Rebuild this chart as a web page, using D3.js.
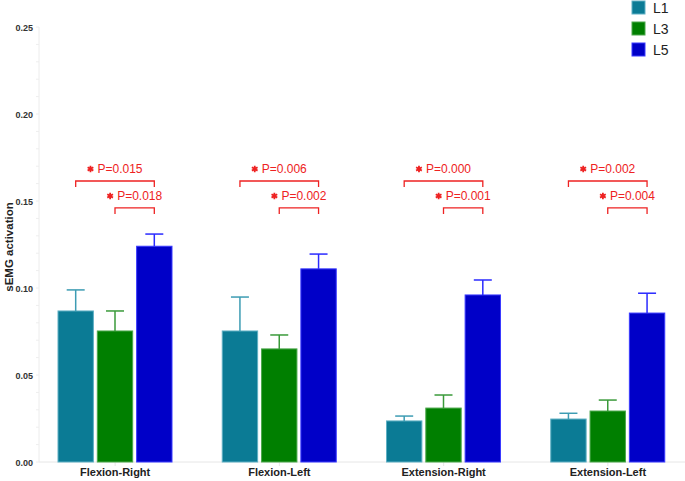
<!DOCTYPE html>
<html lang="en">
<head>
    <meta charset="UTF-8">
    <title>sEMG activation</title>
    <script src="https://d3js.org/d3.v7.min.js"></script>
    <style>
        body { margin: 0; background: #fff; }
        text { font-family: Arial, "Liberation Sans", sans-serif; }
    </style>
</head>
<body>
    <div id="chart-container"></div>
    <script>
        // chart data
        const groups = ["Flexion-Right", "Flexion-Left", "Extension-Right", "Extension-Left"];
        const levels = ["L1", "L3", "L5"];
        const meanL1 = [0.0868, 0.0753, 0.0236, 0.0247];
        const meanL3 = [0.0753, 0.0650, 0.0310, 0.0293];
        const meanL5 = [0.1240, 0.1110, 0.0960, 0.0856];
        const errL1 = [0.0121, 0.0195, 0.0028, 0.0033];
        const errL3 = [0.0115, 0.0080, 0.0075, 0.0063];
        const errL5 = [0.0070, 0.0085, 0.0086, 0.0114];
        const pL1L5 = ["P=0.015", "P=0.006", "P=0.000", "P=0.002"];
        const pL3L5 = ["P=0.018", "P=0.002", "P=0.001", "P=0.004"];
        const yTicks = [0, 0.05, 0.10, 0.15, 0.20, 0.25];

        const fills = ["#0b7b95", "#007f00", "#0000c8"];
        const strokes = ["#5fb0c4", "#4ca84c", "#3a3aff"];
        const errColors = ["#3d9cb3", "#3a9a3a", "#2a2aff"];

        const width = 685, height = 481;
        const svg = d3.select("#chart-container").append("svg")
            .attr("width", width).attr("height", height);

        const x = d3.scaleBand().domain(groups).range([33, 690]).padding(0);
        const xi = d3.scaleBand().domain(levels).range([25, 139]).paddingInner(0.1);
        const y = d3.scaleLinear().domain([0, 0.25]).range([462, 27]);

        const means = [meanL1, meanL3, meanL5];
        const errs = [errL1, errL3, errL5];

        // axis lines
        svg.append("line")
            .attr("x1", 39).attr("x2", width).attr("y1", y(0)).attr("y2", y(0))
            .attr("stroke", "#e6e6e6");
        svg.append("line")
            .attr("x1", 39).attr("x2", 39).attr("y1", y(0)).attr("y2", y(0.25))
            .attr("stroke", "#ececec");

        // minor ticks on y axis
        svg.append("g").selectAll("line")
            .data(d3.range(0, 26).map(i => i / 100))
            .join("line")
            .attr("x1", 36).attr("x2", 39)
            .attr("y1", d => y(d)).attr("y2", d => y(d))
            .attr("stroke", "#eeeeee");

        // y tick labels
        svg.append("g").selectAll("text")
            .data(yTicks)
            .join("text")
            .attr("x", 33).attr("y", d => y(d) + 3.5)
            .attr("text-anchor", "end")
            .attr("font-size", 9).attr("font-weight", "bold")
            .attr("fill", "#333")
            .text(d => d3.format(".2f")(d));

        svg.append("text")
            .attr("transform", "translate(13," + 247 + ") rotate(-90)")
            .attr("text-anchor", "middle")
            .attr("font-size", 11.5).attr("font-weight", "bold")
            .attr("fill", "#222")
            .text("sEMG activation");

        // x tick marks and labels
        svg.append("g").selectAll("line")
            .data(groups)
            .join("line")
            .attr("x1", d => x(d) + x.bandwidth() / 2).attr("x2", d => x(d) + x.bandwidth() / 2)
            .attr("y1", y(0)).attr("y2", y(0) + 4)
            .attr("stroke", "#e6e6e6");
        svg.append("g").selectAll("text")
            .data(groups)
            .join("text")
            .attr("x", d => x(d) + x.bandwidth() / 2)
            .attr("y", 476)
            .attr("text-anchor", "middle")
            .attr("font-size", 11).attr("font-weight", "bold")
            .attr("fill", "#222")
            .text(d => d);

        // bars and error bars
        levels.forEach((lv, k) => {
            const g = svg.append("g");
            const rows = groups.map((gr, i) => ({ group: gr, mean: means[k][i], err: errs[k][i] }));
            g.selectAll("rect")
                .data(rows)
                .join("rect")
                .attr("x", d => x(d.group) + xi(lv))
                .attr("y", d => y(d.mean))
                .attr("width", xi.bandwidth())
                .attr("height", d => y(0) - y(d.mean))
                .attr("fill", fills[k])
                .attr("stroke", strokes[k]).attr("stroke-width", 1);
            const cx = d => x(d.group) + xi(lv) + xi.bandwidth() / 2;
            g.selectAll(".stem")
                .data(rows)
                .join("line")
                .attr("class", "stem")
                .attr("x1", cx).attr("x2", cx)
                .attr("y1", d => y(d.mean)).attr("y2", d => y(d.mean + d.err))
                .attr("stroke", errColors[k]).attr("stroke-width", 1.5);
            g.selectAll(".cap")
                .data(rows)
                .join("line")
                .attr("class", "cap")
                .attr("x1", d => cx(d) - 9).attr("x2", d => cx(d) + 9)
                .attr("y1", d => y(d.mean + d.err)).attr("y2", d => y(d.mean + d.err))
                .attr("stroke", errColors[k]).attr("stroke-width", 1.5);
        });

        // significance brackets
        const red = "#ee2222";
        const star = d3.symbol().type(d3.symbolAsterisk).size(30);
        function bracket(from, to, level, labels) {
            const g = svg.append("g");
            groups.forEach((gr, i) => {
                const x1 = x(gr) + xi(from) + xi.bandwidth() / 2;
                const x2 = x(gr) + xi(to) + xi.bandwidth() / 2;
                const yy = y(level);
                g.append("path")
                    .attr("d", `M${x1},${yy + 6}V${yy}H${x2}V${yy + 6}`)
                    .attr("fill", "none").attr("stroke", red).attr("stroke-width", 1.3);
                const mid = (x1 + x2) / 2;
                const t = g.append("text")
                    .attr("x", mid + 5).attr("y", yy - 8)
                    .attr("text-anchor", "middle")
                    .attr("font-size", 12)
                    .attr("fill", red)
                    .text(labels[i]);
                const w = t.node().getComputedTextLength();
                g.append("path")
                    .attr("d", star)
                    .attr("transform", `translate(${mid + 5 - w / 2 - 7},${yy - 12})`)
                    .attr("fill", "none").attr("stroke", red).attr("stroke-width", 1.8);
            });
        }
        bracket("L1", "L5", 0.1615, pL1L5);
        bracket("L3", "L5", 0.1460, pL3L5);

        // legend
        const legend = svg.append("g");
        levels.forEach((lv, k) => {
            legend.append("rect")
                .attr("x", 632).attr("y", 1 + k * 21)
                .attr("width", 13).attr("height", 13)
                .attr("fill", fills[k]).attr("stroke", strokes[k]);
            legend.append("text")
                .attr("x", 653).attr("y", 13 + k * 21)
                .attr("font-size", 14).attr("fill", "#222")
                .text(lv);
        });
    </script>
</body>
</html>
